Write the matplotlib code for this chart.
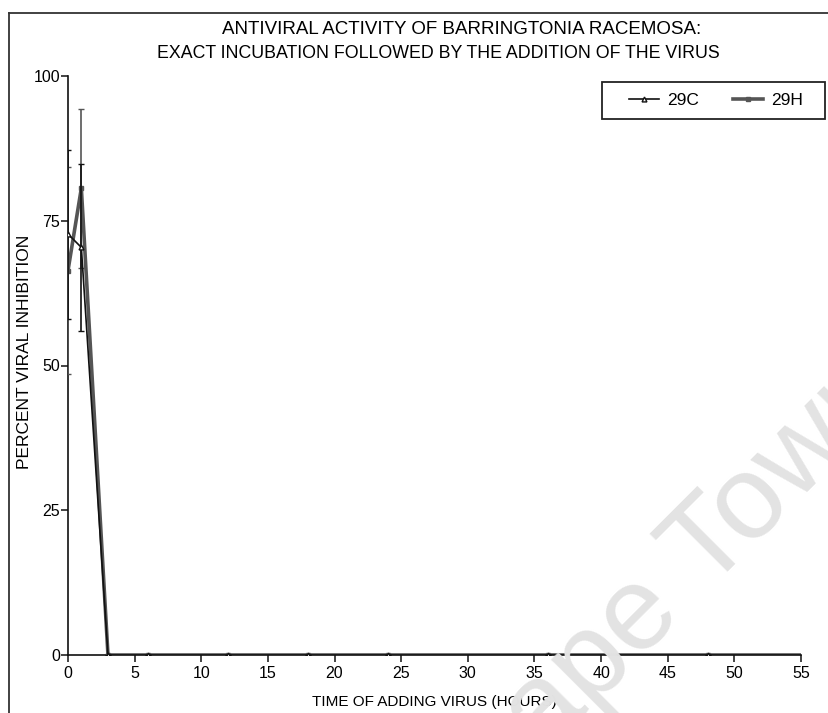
import matplotlib
matplotlib.use("Agg")
import matplotlib.pyplot as plt
from matplotlib.lines import Line2D
from matplotlib.patches import Rectangle

plt.rcParams['font.family'] = ['Liberation Sans', 'DejaVu Sans']

# ---- data ----
time_h = [0, 1, 3, 6, 12, 18, 24, 36, 48, 72]
c29 = [72.7, 70.4, 0, 0, 0, 0, 0, 0, 0, 0]
c29_err = [14.6, 14.4, 0, 0, 0, 0, 0, 0, 0, 0]
h29 = [66.4, 80.6, 0, 0, 0, 0, 0, 0, 0, 0]
h29_err = [17.8, 13.7, 0, 0, 0, 0, 0, 0, 0, 0]
x_ticks = [0, 5, 10, 15, 20, 25, 30, 35, 40, 45, 50, 55]
y_ticks = [0, 25, 50, 75, 100]
series_labels = ['29C', '29H']

W, H = 829, 713
fig = plt.figure(figsize=(W / 100, H / 100), dpi=100)

# watermark
fig.text(482 / W, 1 - 817 / H, "Cape Town", rotation=45,
         rotation_mode='anchor', ha='left', va='baseline', fontsize=86,
         color='#e3e3e3', zorder=0)

# frame lines
fig.add_artist(Line2D([9 / W, 9 / W], [0, 1 - 12.5 / H], color='#333333', lw=1.3))
fig.add_artist(Line2D([9 / W, 1], [1 - 12.5 / H, 1 - 12.5 / H], color='#333333', lw=1.3))

ax = fig.add_axes([68 / W, 1 - 655 / H, (801 - 68) / W, (655 - 76) / H])
ax.patch.set_alpha(0)

# 29H (gray, thicker)
ax.errorbar(time_h, h29, yerr=h29_err, color='#555555', lw=2.6, marker='s',
            ms=3.5, elinewidth=1.2, capsize=2.5, zorder=3)
# 29C (black, thin)
ax.errorbar(time_h, c29, yerr=c29_err, color='#111111', lw=1.2, marker='^',
            ms=3.5, mfc='white', elinewidth=1.2, capsize=2.5, zorder=4)

ax.set_xlim(0, 55)
ax.set_ylim(0, 100)
ax.set_xticks(x_ticks)
ax.set_yticks(y_ticks)
for s in ['top', 'right']:
    ax.spines[s].set_visible(False)
for s in ['left', 'bottom']:
    ax.spines[s].set_linewidth(1.2)
    ax.spines[s].set_color('#111111')
ax.tick_params(axis='both', direction='out', length=5, width=1.1,
               labelsize=11.5, color='#111111')
ax.tick_params(axis='y', pad=0.5)
ax.tick_params(axis='x', pad=3)

ax.set_xlabel("TIME OF ADDING VIRUS (HOURS)", fontsize=11)
ax.xaxis.set_label_coords(0.5, -(702 - 655) / 579, transform=ax.transAxes)
ax.set_ylabel("PERCENT VIRAL INHIBITION", fontsize=12.5)
ax.yaxis.set_label_coords(-(68 - 25) / 733, (655 - 352) / 579)
ax.xaxis.label.set_va('center')
ax.yaxis.label.set_va('center')

fig.text(462 / W, 1 - 29 / H, "ANTIVIRAL ACTIVITY OF BARRINGTONIA RACEMOSA:",
         ha='center', va='center', fontsize=13.5)
fig.text(438 / W, 1 - 54 / H, "EXACT INCUBATION FOLLOWED BY THE ADDITION OF THE VIRUS",
         ha='center', va='center', fontsize=12.8)

# legend box
fig.add_artist(Rectangle((602 / W, 1 - 119 / H), (825 - 602) / W, 37 / H,
                         transform=fig.transFigure, fill=False,
                         edgecolor='#222222', lw=1.3))
handles = [Line2D([], [], color='#111111', lw=1.2, marker='^', ms=3.5, mfc='white'),
           Line2D([], [], color='#555555', lw=2.6, marker='s', ms=3.5)]
fig.legend(handles, series_labels, loc='center',
           bbox_to_anchor=(716 / W, 1 - 100.5 / H), ncol=2, fontsize=12.5,
           frameon=False, handlelength=1.7, columnspacing=2.0,
           handletextpad=0.45, borderpad=0, borderaxespad=0)

fig.savefig("out.png", dpi=100)
